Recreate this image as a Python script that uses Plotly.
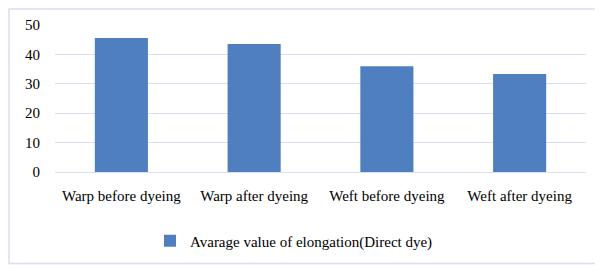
import plotly.graph_objects as go

categories = ["Warp before dyeing", "Warp after dyeing", "Weft before dyeing", "Weft after dyeing"]
values = [45.6, 43.5, 36.0, 33.3]
series_name = "Avarage value of elongation(Direct dye)"
y_ticks = [0, 10, 20, 30, 40, 50]

# page has an 8px body margin; figure coords = page coords - 8
OFF = 8
W, H = 603 - OFF, 269 - OFF
L, R, T, B = 55 - OFF, 25 - OFF, 25 - OFF, 97
pw, ph = W - L - R, H - T - B

fig = go.Figure()
fig.add_trace(go.Bar(
    x=categories, y=values, name=series_name,
    marker=dict(color="#4f7fbe", line=dict(width=0)),
    showlegend=True,
))

font = dict(family="Liberation Serif", size=15, color="#000000")

def fx(p):
    return (p - L) / pw

def fy(p):
    return (H - B - p) / ph

fig.update_layout(
    width=W, height=H,
    margin=dict(l=L, r=R, t=T, b=B, autoexpand=False),
    paper_bgcolor="white", plot_bgcolor="white",
    font=font,
    bargap=0.6,
    xaxis=dict(showgrid=False, showline=True, linecolor="#d9e1ef", linewidth=1,
               ticks="", tickfont=font, ticklabelstandoff=10),
    yaxis=dict(range=[0, 50], tickvals=y_ticks, showgrid=True, gridcolor="#d5dff0",
               gridwidth=1, zeroline=False, showline=False, ticks="",
               tickfont=font, ticklabelstandoff=14),
    legend=dict(orientation="h", x=fx(190 - OFF - 40), xanchor="left", y=fy(241 - OFF),
                yanchor="middle", font=font, itemwidth=30, bgcolor="rgba(0,0,0,0)"),
    shapes=[dict(type="rect", xref="paper", yref="paper",
                 x0=fx(1), x1=fx(589.5), y0=fy(255.5), y1=fy(1),
                 line=dict(color="#d6e0f0", width=1.5), fillcolor="rgba(0,0,0,0)",
                 layer="below")],
)

fig.write_html("out.html")
